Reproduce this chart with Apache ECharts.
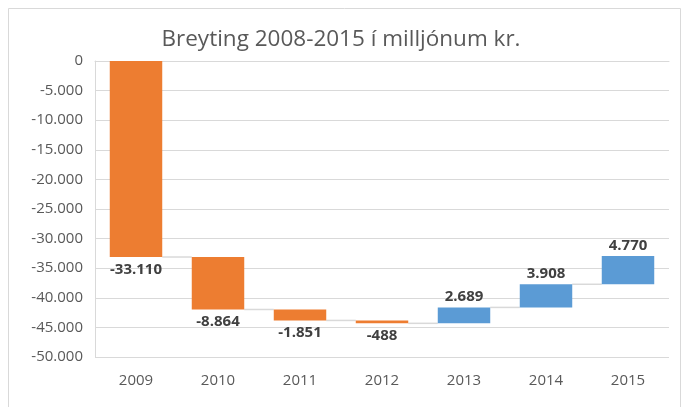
<!DOCTYPE html>
<html>
<head>
<meta charset="utf-8">
<script src="https://cdn.jsdelivr.net/npm/echarts@6/dist/echarts.min.js"></script>
<style>
html, body { margin: 0; padding: 0; background: #fff; }
#chart { width: 682px; height: 407px; }
</style>
</head>
<body>
<div id="chart"></div>
<script>
// gögn
const years = ['2009', '2010', '2011', '2012', '2013', '2014', '2015'];
const changes = [-33110, -8864, -1851, -488, 2689, 3908, 4770];
const yTicks = { min: -50000, max: 0, interval: 5000 };

// uppsöfnuð staða eftir hvert ár
let running = 0;
const ends = changes.map(v => (running += v));
const starts = ends.map((e, i) => e - changes[i]);
// ósýnilegi grunnurinn er efri brún súlunnar, súlan sjálf fer niður
const base = ends.map((e, i) => Math.max(e, starts[i]));
const size = changes.map(v => -Math.abs(v));

const fmt = v => {
    const s = Math.abs(v).toString().replace(/\B(?=(\d{3})+(?!\d))/g, '.');
    return (v < 0 ? '-' : '') + s;
};

const ORANGE = '#ED7D31';
const BLUE = '#5B9BD5';
const FONT = '"Open Sans", "Noto Sans", sans-serif';

let chart = echarts.init(document.getElementById('chart'));
let option = {
    backgroundColor: '#fff',
    animation: false,
    title: {
        text: 'Breyting 2008-2015 í milljónum kr.',
        left: 'center',
        top: 23,
        textStyle: {
            color: '#595959',
            fontSize: 22.5,
            fontWeight: 'normal',
            fontFamily: FONT
        }
    },
    graphic: [{
        type: 'rect',
        shape: { x: 8.5, y: 8.5, width: 672, height: 420 },
        style: { fill: 'none', stroke: '#d9d9d9', lineWidth: 1 },
        silent: true
    }],
    grid: {
        left: 95,
        right: 13,
        top: 61,
        bottom: 50
    },
    xAxis: {
        type: 'category',
        data: years,
        axisTick: { show: false },
        axisLine: { lineStyle: { color: '#d9d9d9', width: 1 } },
        axisLabel: {
            color: '#595959',
            fontSize: 15,
            fontFamily: FONT,
            margin: 16
        }
    },
    yAxis: {
        type: 'value',
        min: yTicks.min,
        max: yTicks.max,
        interval: yTicks.interval,
        axisLine: { show: true, lineStyle: { color: '#d9d9d9' } },
        axisTick: { show: false },
        axisLabel: {
            color: '#595959',
            fontSize: 15,
            fontFamily: FONT,
            margin: 12,
            formatter: fmt
        },
        splitLine: { lineStyle: { color: '#d9d9d9', width: 1 } }
    },
    series: [
        {
            name: 'grunnur',
            type: 'bar',
            stack: 'foss',
            barWidth: '64%',
            itemStyle: { color: 'transparent' },
            silent: true,
            data: base
        },
        {
            name: 'breyting',
            type: 'bar',
            stack: 'foss',
            barWidth: '64%',
            data: size.map((s, i) => ({
                value: s,
                itemStyle: { color: changes[i] < 0 ? ORANGE : BLUE },
                label: {
                    show: true,
                    position: changes[i] < 0 ? 'bottom' : 'top',
                    distance: changes[i] < 0 ? 5 : 3,
                    formatter: () => fmt(changes[i])
                }
            })),
            label: {
                color: '#404040',
                fontSize: 15,
                fontWeight: 'bold',
                fontFamily: FONT
            }
        },
        {
            // tengilínur milli súlna
            name: 'tengi',
            type: 'custom',
            silent: true,
            z: 1,
            data: ends.slice(0, -1).map((e, i) => [i, e]),
            renderItem: function (params, api) {
                const i = api.value(0);
                const lvl = api.value(1);
                const p0 = api.coord([i, lvl]);
                const p1 = api.coord([i + 1, lvl]);
                const bw = api.size([1, 0])[0] * 0.64;
                return {
                    type: 'line',
                    shape: { x1: p0[0] + bw / 2, y1: p0[1], x2: p1[0] - bw / 2, y2: p1[1] },
                    style: { stroke: '#d9d9d9', lineWidth: 1.5 }
                };
            }
        }
    ]
};
chart.setOption(option);
</script>
</body>
</html>
